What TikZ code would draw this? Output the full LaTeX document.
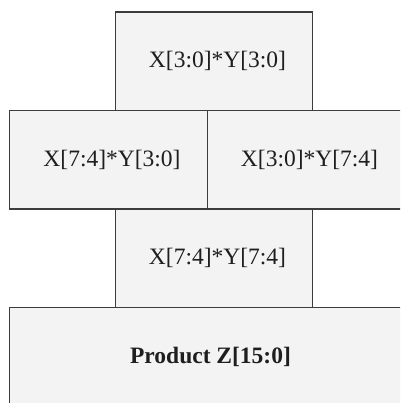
\documentclass[tikz,border=0pt]{standalone}
\usepackage{fontspec}
\setmainfont{Liberation Serif}
\usetikzlibrary{positioning}
\definecolor{boxfill}{HTML}{F3F3F3}
\definecolor{boxline}{HTML}{3C3C3C}
\definecolor{boxtext}{HTML}{1E1E1E}

\begin{document}
\begin{tikzpicture}[x=1pt,y=-1pt,node distance=0pt,
                        font=\fontsize{23.5}{28}\selectfont]
      \tikzstyle{partial}=[draw=boxline,fill=boxfill,text=boxtext,line width=1.2pt,
                           minimum width=197.5pt,minimum height=98.5pt,
                           inner sep=0pt,outer sep=0pt,
                           execute at begin node=\hspace*{7pt}]

      \useasboundingbox (0,0) rectangle (400,403);
      \clip (0,0) rectangle (400,403);

      \node[partial] (LH) at (108.5,159.75)                     {X[7:4]*Y[3:0]};
      \node[partial] (HL) [right=of LH]                         {X[3:0]*Y[7:4]};
      \node[partial] (LL) [above=of LH.north east,xshift=6.75pt] {X[3:0]*Y[3:0]};
      \node[partial] (HH) [below=of LH.south east,xshift=6.75pt] {X[7:4]*Y[7:4]};
      \node[partial,minimum width=395pt] (Z) [below=of HH,xshift=-7pt]
                                                                {\bfseries Product Z[15:0]};
    \end{tikzpicture}
\end{document}
